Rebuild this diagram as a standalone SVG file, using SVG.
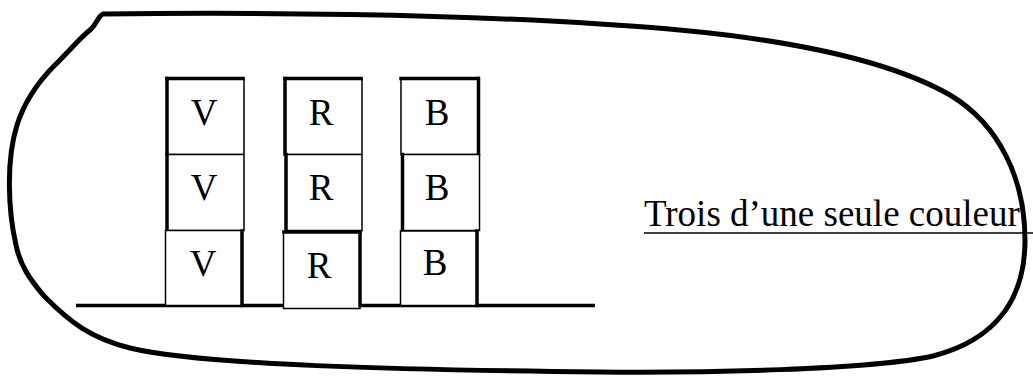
<svg xmlns="http://www.w3.org/2000/svg" width="1033" height="383" viewBox="0 0 1033 383">
  <style>
    .box { fill: #fff; stroke: #000; stroke-width: 1.5; }
    .edge { stroke: #000; stroke-width: 3.5; stroke-linecap: square; }
    .lbl { font-family: "Liberation Serif", "Times New Roman", serif; font-size: 37px; fill: #000; text-anchor: middle; }
    .caption { font-family: "Liberation Serif", "Times New Roman", serif; font-size: 37px; fill: #000; }
    .loop { fill: none; stroke: #000; stroke-width: 5; stroke-linejoin: round; stroke-linecap: round; }
  </style>
  <rect width="1033" height="383" fill="#fff"/>

  <!-- ground line -->
  <g id="ground">
    <line x1="76" y1="305.5" x2="595" y2="305.5" stroke="#000" stroke-width="3.5"/>
  </g>

  <!-- green stack -->
  <g id="v-top">
    <rect class="box" x="167" y="78.5" width="77" height="76"/>
    <line class="edge" x1="167" y1="78.5" x2="167" y2="154"/>
    <line class="edge" x1="167" y1="78.5" x2="243" y2="78.5"/>
    <text class="lbl" x="204" y="125">V</text>
  </g>
  <g id="v-mid">
    <rect class="box" x="167" y="154.5" width="77" height="76"/>
    <line class="edge" x1="167" y1="154.5" x2="167" y2="230"/>
    <text class="lbl" x="204" y="200">V</text>
  </g>
  <g id="v-bot">
    <rect class="box" x="165.5" y="230.5" width="76.5" height="75"/>
    <line class="edge" x1="242" y1="231" x2="242" y2="305.5"/>
    <text class="lbl" x="203" y="276">V</text>
  </g>

  <!-- red stack -->
  <g id="r-top">
    <rect class="box" x="285" y="78.5" width="77" height="76"/>
    <line class="edge" x1="285" y1="78.5" x2="285" y2="154"/>
    <line class="edge" x1="285" y1="78.5" x2="361" y2="78.5"/>
    <text class="lbl" x="321" y="125">R</text>
  </g>
  <g id="r-mid">
    <rect class="box" x="286" y="154.5" width="76" height="76"/>
    <line class="edge" x1="286" y1="154.5" x2="286" y2="230"/>
    <text class="lbl" x="321" y="200">R</text>
  </g>
  <g id="r-bot">
    <rect class="box" x="283.5" y="232" width="76.5" height="76.5"/>
    <line class="edge" x1="284" y1="232" x2="360" y2="232"/>
    <line class="edge" x1="360" y1="232" x2="360" y2="305.5"/>
    <text class="lbl" x="319" y="278">R</text>
  </g>

  <!-- blue stack -->
  <g id="b-top">
    <rect class="box" x="401" y="78.5" width="77.5" height="76"/>
    <line class="edge" x1="401" y1="78.5" x2="478" y2="78.5"/>
    <line class="edge" x1="478.5" y1="78.5" x2="478.5" y2="154"/>
    <text class="lbl" x="437" y="125">B</text>
  </g>
  <g id="b-mid">
    <rect class="box" x="402.5" y="154.5" width="77" height="76"/>
    <line class="edge" x1="402.5" y1="154.5" x2="402.5" y2="230"/>
    <text class="lbl" x="437" y="200">B</text>
  </g>
  <g id="b-bot">
    <rect class="box" x="400.5" y="231" width="76.5" height="74.5"/>
    <line class="edge" x1="477" y1="231" x2="477" y2="305.5"/>
    <text class="lbl" x="435" y="275">B</text>
  </g>

  <!-- caption -->
  <g id="caption">
    <text class="caption" x="644" y="226">Trois d’une seule couleur</text>
    <line x1="644" y1="233" x2="1033" y2="233" stroke="#000" stroke-width="1.5"/>
  </g>

  <!-- enclosing hand-drawn loop -->
  <g id="loop">
    <path class="loop" d="M 103 14
      C 250 12, 450 14, 600 24
      C 760 33, 880 55, 950 95
      C 1000 125, 1025 180, 1025 240
      C 1025 300, 995 340, 933 356
      C 870 370, 700 373, 600 372
      C 400 370, 200 365, 130 348
      C 90 338, 70 322, 45 297
      C 30 280, 20 265, 16 245
      C 8 210, 6 160, 17 125
      C 25 100, 40 80, 55 65
      C 70 50, 80 38, 90 30
      C 97 24, 98 16, 103 14 Z"/>
  </g>
</svg>
